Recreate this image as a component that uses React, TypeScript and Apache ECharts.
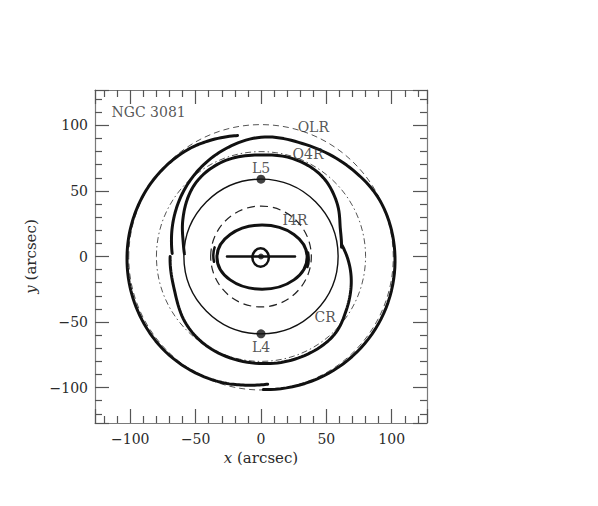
import React, { useEffect, useRef } from "react";
import * as echarts from "echarts";

// axis range (arcsec)
const AXIS_MIN = -127;
const AXIS_MAX = 127;

// resonance circles / ellipses: [cx, cy, rx, ry]
const OLR_RING = [0, -0.6, 101.2, 101.2];
const O4R_RING = [0, 0, 80, 80];
const CR_RING = [0, 0, 59, 59];
const I4R_RING = [0, 0, 38.5, 38.5];
const INNER_RING = [0.8, -0.5, 34.5, 24.5];
const NUCLEAR_RING = [-0.3, -0.8, 6.3, 7];

// bar
const BAR = [[-26, 0], [26, 0]];

// pseudoring arcs (thick), read as [position angle deg (CCW from +x), radius arcsec]
const R2A = [[101, 94], [115, 97], [125, 99], [145, 101], [165, 102], [180, 102.5], [200, 103], [225, 103], [250, 101], [262, 99], [273, 97.5]];
const R2B = [[-89, 101.5], [-60, 103], [-30, 103.5], [0, 102.5], [25, 100.5], [45, 96], [68, 92], [90, 91], [112, 85.5], [131, 80], [152, 74], [168, 70], [178, 68]];
const R1A = [[6.5, 62], [20, 64.5], [35, 71], [53, 77], [72, 78.5], [90, 77.5], [112, 78], [132, 75], [155, 66], [168, 61], [178, 58.6]];
const R1B = [[180, 69.5], [201, 71], [222, 77], [240, 80], [267, 81.5], [290, 82.5], [312, 82], [328, 77], [345, 71.5], [357, 67], [368, 62.5]];

// inner ring end pieces (x, y)
const INNER_END_L = [[-35.5, 7], [-36.5, 1], [-36, -4]];
const INNER_END_R = [[36, 3], [36.5, -2.5], [35.5, -8]];

// Lagrangian points
const LAGRANGE_X = [0, 0];
const LAGRANGE_Y = [59, -59];
const CENTER = [[0, 0]];

// text labels
const LABEL_TEXT = ["NGC 3081", "OLR", "O4R", "L5", "I4R", "CR", "L4"];
const LABEL_X = [-86, 40, 36, 0, 26, 49, 0];
const LABEL_Y = [110, 98.5, 78, 67.5, 27.5, -46.5, -69];

const FONT = "DejaVu Serif";
const TEXT_COLOR = "#2a2a2a";

function ringSeries(ring: number[], style: any, z = 3) {
  return {
    type: "custom",
    coordinateSystem: "cartesian2d",
    silent: true,
    z,
    data: [ring],
    renderItem: (params: any, api: any) => {
      const c = api.coord([api.value(0), api.value(1)]);
      const s = api.size([api.value(2), api.value(3)]);
      return {
        type: "ellipse",
        shape: { cx: c[0], cy: c[1], rx: s[0], ry: s[1] },
        style: Object.assign({ fill: "none" }, style),
      };
    },
  };
}

// smooth curve through the read (angle, radius) points, drawn via the axes' scales
function spiralSeries(pts: number[][], width = 3) {
  return {
    type: "custom",
    coordinateSystem: "cartesian2d",
    silent: true,
    z: 4,
    data: [[0]],
    renderItem: (params: any, api: any) => {
      const n = pts.length;
      const get = (i: number) => pts[Math.max(0, Math.min(n - 1, i))];
      const out: number[][] = [];
      const STEPS = 12;
      for (let i = 0; i < n - 1; i++) {
        const p0 = get(i - 1), p1 = get(i), p2 = get(i + 1), p3 = get(i + 2);
        for (let s = 0; s < STEPS; s++) {
          const t = s / STEPS;
          const t2 = t * t, t3 = t2 * t;
          const cr = (a: number, b: number, c: number, d: number) =>
            0.5 * (2 * b + (-a + c) * t + (2 * a - 5 * b + 4 * c - d) * t2 + (-a + 3 * b - 3 * c + d) * t3);
          const th = cr(p0[0], p1[0], p2[0], p3[0]);
          const r = cr(p0[1], p1[1], p2[1], p3[1]);
          const rad = (th * Math.PI) / 180;
          out.push(api.coord([r * Math.cos(rad), r * Math.sin(rad)]));
        }
      }
      const last = pts[n - 1];
      const lr = (last[0] * Math.PI) / 180;
      out.push(api.coord([last[1] * Math.cos(lr), last[1] * Math.sin(lr)]));
      return {
        type: "polyline",
        shape: { points: out },
        style: { fill: "none", stroke: "#111", lineWidth: width, lineCap: "round", lineJoin: "round" },
      };
    },
  };
}

function lineSeries(points: number[][], width = 3) {
  return {
    type: "line",
    data: points,
    smooth: 0.5,
    symbol: "none",
    clip: false,
    silent: true,
    z: 4,
    lineStyle: { color: "#111", width, cap: "round" },
  };
}

const fmt = (v: number) => (v < 0 ? "\u2212" + Math.abs(v) : String(v));

function makeAxis(pos: string, withLabels: boolean, isY: boolean) {
  const ax: any = {
    type: "value",
    position: pos,
    min: AXIS_MIN,
    max: AXIS_MAX,
    splitLine: { show: false },
    axisLine: { show: true, onZero: false, lineStyle: { color: "#7a7a7a", width: 1.2 } },
    axisTick: { show: true, inside: true, length: 14, lineStyle: { color: "#555", width: 1.2 } },
    minorTick: { show: true, splitNumber: 5, length: 7, lineStyle: { color: "#555", width: 1.2 } },
    axisLabel: {
      show: withLabels,
      showMinLabel: false,
      showMaxLabel: false,
      fontFamily: FONT,
      fontSize: 14,
      color: TEXT_COLOR,
      margin: isY ? 7 : 9,
      formatter: fmt,
    },
  };
  if (withLabels) {
    ax.name = isY ? "{i|y} (arcsec)" : "{i|x} (arcsec)";
    ax.nameLocation = "middle";
    ax.nameGap = isY ? 41 : 15;
    ax.nameTextStyle = {
      fontFamily: FONT,
      fontSize: 15,
      color: TEXT_COLOR,
      rich: { i: { fontStyle: "italic", fontFamily: FONT, fontSize: 15, color: TEXT_COLOR } },
    };
  }
  return ax;
}

export default function App() {
  const ref = useRef<HTMLDivElement>(null);
  useEffect(() => {
    document.body.style.margin = "0";
    const chart = echarts.init(ref.current!, null, { renderer: "svg" });
    const labels = LABEL_TEXT.map((t, i) => ({ name: t, value: [LABEL_X[i], LABEL_Y[i]] }));
    const lag = LAGRANGE_X.map((x, i) => [x, LAGRANGE_Y[i]]);
    chart.setOption({
      animation: false,
      backgroundColor: "#fff",
      grid: { left: 95, top: 90, width: 332, height: 333 },
      xAxis: [makeAxis("bottom", true, false), makeAxis("top", false, false)],
      yAxis: [makeAxis("left", true, true), makeAxis("right", false, true)],
      series: [
        ringSeries(OLR_RING, { stroke: "#555", lineWidth: 1, lineDash: [6, 4] }, 2),
        ringSeries(O4R_RING, { stroke: "#555", lineWidth: 1, lineDash: [6, 3, 1.5, 3] }, 2),
        ringSeries(CR_RING, { stroke: "#111", lineWidth: 1.4 }, 3),
        ringSeries(I4R_RING, { stroke: "#222", lineWidth: 1.2, lineDash: [8, 5] }, 3),
        ringSeries(INNER_RING, { stroke: "#111", lineWidth: 3 }, 4),
        ringSeries(NUCLEAR_RING, { stroke: "#111", lineWidth: 2.5 }, 4),
        spiralSeries(R2A),
        spiralSeries(R2B),
        spiralSeries(R1A),
        spiralSeries(R1B),
        lineSeries(INNER_END_L, 2.5),
        lineSeries(INNER_END_R, 2.5),
        lineSeries(BAR, 2.5),
        {
          type: "scatter",
          data: lag,
          symbol: "circle",
          symbolSize: 9,
          itemStyle: { color: "#111" },
          silent: true,
          z: 5,
        },
        {
          type: "scatter",
          data: CENTER,
          symbol: "circle",
          symbolSize: 6,
          itemStyle: { color: "#111" },
          silent: true,
          z: 5,
        },
        {
          type: "scatter",
          data: labels,
          symbolSize: 0,
          silent: true,
          z: 6,
          label: {
            show: true,
            position: "inside",
            formatter: "{b}",
            fontFamily: FONT,
            fontSize: 14,
            color: TEXT_COLOR,
          },
        },
      ],
    });
    return () => chart.dispose();
  }, []);
  return <div ref={ref} style={{ width: 598, height: 506 }} />;
}
